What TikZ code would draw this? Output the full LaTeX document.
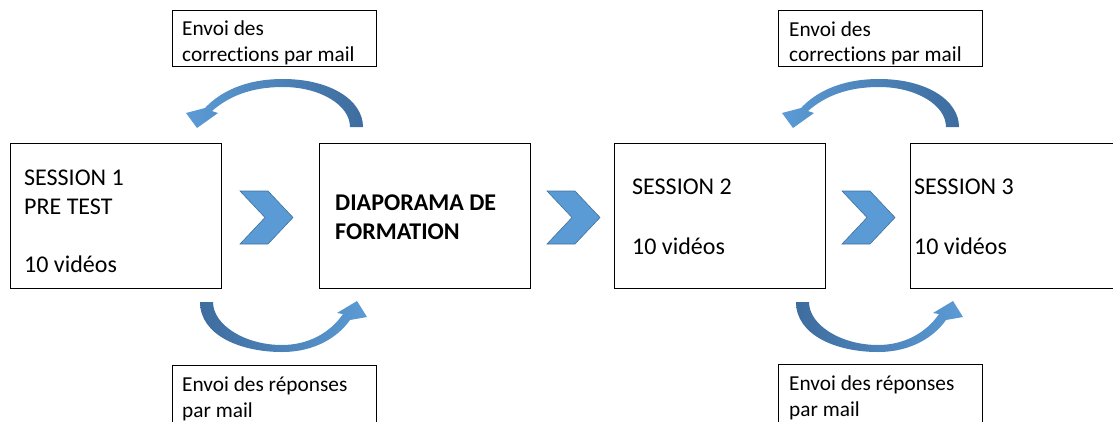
\documentclass[tikz,border=0pt]{standalone}
\usepackage{fontspec}
\setmainfont[Ligatures=NoCommon]{Carlito}
\definecolor{chevfill}{HTML}{5B9BD5}
\definecolor{chevline}{HTML}{41719C}
\definecolor{arrdark}{HTML}{3E6C9E}
\definecolor{arrlight}{HTML}{5B9BD5}
\begin{document}
\begin{tikzpicture}[x=1pt,y=-1pt,
  box/.style={draw=black, line width=1.2pt, rectangle, inner sep=0pt, anchor=north west},
  bigbox/.style={box, minimum width=211pt, minimum height=145pt},
  smallbox/.style={box, minimum width=204pt, minimum height=56pt},
  bigtxt/.style={anchor=base west, inner sep=0pt, font=\fontsize{24}{29}\selectfont},
  smalltxt/.style={anchor=base west, inner sep=0pt, font=\fontsize{21.3}{26}\selectfont},
  chevron/.pic={\filldraw[fill=chevfill, draw=chevline, line width=0.6pt]
     (0,0) -- (28,0) -- (53,26.5) -- (28,53) -- (0,53) -- (25,26.5) -- cycle;},
  toparrow/.pic={\shade[left color=arrlight, right color=arrdark]
     (363,127) .. controls (363,100) and (330,79) .. (283,79)
     .. controls (245,79) and (220,92) .. (205,108)
     -- (186,113) -- (197,128) -- (218,113) -- (212,111)
     .. controls (228,97) and (250,87) .. (283,87)
     .. controls (320,87) and (350,105) .. (350,127) -- cycle;},
  botarrow/.pic={\shade[left color=arrdark, right color=arrlight]
     (200,302) .. controls (200,335) and (240,352) .. (282,352)
     .. controls (315,352) and (338,337) .. (350,320)
     -- (367,317) -- (357,301) -- (337,313) -- (343,314)
     .. controls (330,333) and (308,345) .. (282,345)
     .. controls (245,345) and (213,325) .. (213,302) -- cycle;}
]
\useasboundingbox (0,0) rectangle (1113,421);
\clip (0,0) rectangle (1113,421);

% main boxes
\node[bigbox] (b1) at (10,143) {};
\node[bigbox] (b2) at (319,143) {};
\node[bigbox] (b3) at (614,143) {};
\node[bigbox] (b4) at (910,143) {};

% small boxes
\node[smallbox] (c1) at (172,10) {};
\node[smallbox] (c2) at (778,10) {};
\node[smallbox, minimum height=70pt] (r1) at (172,365) {};
\node[smallbox, minimum height=70pt] (r2) at (778,364) {};

% texts in main boxes
\node[bigtxt] (t1a) at (24,185) {SESSION 1};
\node[bigtxt] (t1b) at (24,214) {PRE TEST};
\node[bigtxt] (t1c) at (24,272) {10 vidéos};
\node[bigtxt, font=\fontsize{24}{29}\selectfont\bfseries] (t2a) at (335,210) {DIAPORAMA DE};
\node[bigtxt, font=\fontsize{24}{29}\selectfont\bfseries] (t2b) at (335,239) {FORMATION};
\node[bigtxt] (t3a) at (632,194) {SESSION 2};
\node[bigtxt] (t3b) at (632,254) {10 vidéos};
\node[bigtxt] (t4a) at (914,194) {SESSION 3};
\node[bigtxt] (t4b) at (914,254) {10 vidéos};

% texts in small boxes
\node[smalltxt] (tc1a) at (182,35) {Envoi des};
\node[smalltxt] (tc1b) at (182,61) {corrections par mail};
\node[smalltxt] (tc2a) at (789,36) {Envoi des};
\node[smalltxt] (tc2b) at (789,61) {corrections par mail};
\node[smalltxt] (tr1a) at (182,391) {Envoi des réponses};
\node[smalltxt] (tr1b) at (182,417) {par mail};
\node[smalltxt] (tr2a) at (789,390) {Envoi des réponses};
\node[smalltxt] (tr2b) at (789,416) {par mail};

% chevrons
\pic at (240,191) {chevron};
\pic at (547,191) {chevron};
\pic at (842,191) {chevron};

% curved arrows
\pic at (0,0) {toparrow};
\pic at (596,0) {toparrow};
\pic at (0,0) {botarrow};
\pic at (596,0) {botarrow};
\end{tikzpicture}
\end{document}
